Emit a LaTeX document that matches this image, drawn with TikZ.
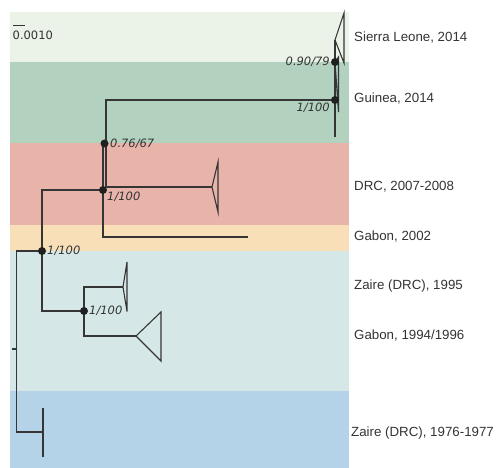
\documentclass[tikz,border=0pt]{standalone}
\usepackage{fontspec}
\setmainfont{Liberation Sans}
\newfontfamily\supfont{DejaVu Sans}
\definecolor{slband}{HTML}{EBF2E8}
\definecolor{guband}{HTML}{B2D1BF}
\definecolor{drcband}{HTML}{E8B4AA}
\definecolor{gaband}{HTML}{F8DFB8}
\definecolor{zaband}{HTML}{D6E7E7}
\definecolor{olband}{HTML}{B4D3E9}
\definecolor{treegray}{HTML}{353535}
\definecolor{labgray}{HTML}{333333}
\begin{document}
\begin{tikzpicture}[x=1pt,y=-1pt,
  branch/.style={draw=treegray,line width=1.1pt,line join=miter},
  dot/.style={circle,fill=treegray!60!black,inner sep=0pt,minimum size=8pt},
  support/.style={font=\supfont\itshape\fontsize{11.5}{13}\selectfont,text=labgray,inner sep=0pt},
  place/.style={anchor=west,font=\fontsize{13.3}{15}\selectfont,text=labgray,inner sep=0pt}]
\useasboundingbox (0,0) rectangle (498,468);
\fill[slband] (10,12) rectangle (349,62);
\fill[guband] (10,62) rectangle (349,143);
\fill[drcband] (10,143) rectangle (349,225);
\fill[gaband] (10,225) rectangle (349,250.5);
\fill[zaband] (10,250.5) rectangle (349,391);
\fill[olband] (10,391) rectangle (349,468);

\coordinate (sbl) at (13,25);
\coordinate (sbr) at (25,25);
\draw[branch,line width=0.9pt] (sbl) -- (sbr);
\node[support,font=\supfont\fontsize{11.5}{13}\selectfont,anchor=west] (scale) at (12.5,35) {0.0010};

\coordinate (stem) at (12,349);
\coordinate (root) at (16.7,349);
\coordinate (jA) at (42,251);
\coordinate (jB) at (103,190);
\coordinate (jC) at (84,311);
\coordinate (jD) at (104.5,143.5);
\coordinate (jE) at (335,100);
\coordinate (jF) at (335,62);
\coordinate (z76) at (43,432);
\coordinate (z95) at (123,287);
\coordinate (g94) at (136,336);
\coordinate (g02) at (248,237);
\coordinate (drc) at (212,187);
\coordinate (gui) at (335,137);
\coordinate (sle) at (335,40);

\draw[branch] (stem) -- (root);
\draw[branch] (jA) -| (root) |- (z76);
\draw[branch] (43,408) -- (43,457);
\draw[branch] (jB) -| (jA) |- (jC);
\draw[branch] (z95) -| (jC) |- (g94);
\draw[branch] (z95) -- (127,262) -- (127,311.5) -- cycle;
\draw[branch] (g94) -- (161,312) -- (161,361) -- cycle;
\draw[branch] ([xshift=-1.5pt]jD) -- (jB) |- (g02);
\draw[branch] ([xshift=1.5pt]jD) |- (drc);
\draw[branch] (drc) -- (218,162) -- (218,212) -- cycle;
\draw[branch] ([xshift=1.5pt]jD) |- (jE);
\draw[branch] (jF) -- (jE) -- (gui);
\draw[branch] (jF) -- (sle);
\draw[branch] (sle) -- (344,13) -- (344,63) -- cycle;
\draw[branch] (jF) -- (338.5,57) -- (338.5,112) -- cycle;

\node[dot] (dA) at (jA) {};
\node[dot] (dB) at (jB) {};
\node[dot] (dC) at (jC) {};
\node[dot] (dD) at (jD) {};
\node[dot] (dE) at (jE) {};
\node[dot] (dF) at (jF) {};

\node[support,anchor=east] (sF) at (330,62) {0.90/79};
\node[support,anchor=east] (sE) at (330,108) {1/100};
\node[support,anchor=west] (sD) at (110,143.5) {0.76/67};
\node[support,anchor=west] (sB) at (107,197) {1/100};
\node[support,anchor=west] (sA) at (47,251) {1/100};
\node[support,anchor=west] (sC) at (89,311) {1/100};

\node[place] (lsle) at (354,38) {Sierra Leone, 2014};
\node[place] (lgui) at (354,99) {Guinea, 2014};
\node[place] (ldrc) at (354,187) {DRC, 2007-2008};
\node[place] (lg02) at (354,237) {Gabon, 2002};
\node[place] (lz95) at (354,286) {Zaire (DRC), 1995};
\node[place] (lg94) at (354,336) {Gabon, 1994/1996};
\node[place] (lz76) at (351,433) {Zaire (DRC), 1976-1977};
\end{tikzpicture}
\end{document}
